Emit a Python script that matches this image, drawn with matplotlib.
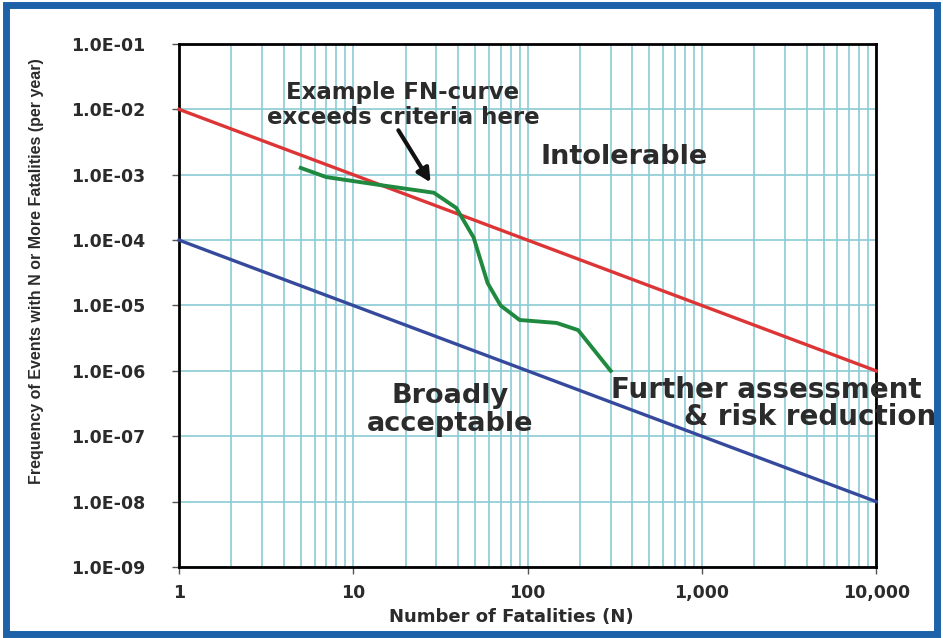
import numpy as np
import matplotlib.pyplot as plt
from matplotlib.patches import Rectangle
from matplotlib.ticker import FixedLocator, FixedFormatter, NullFormatter

# criteria lines (slope -1 on log-log)
crit_n = [1, 10000]
intolerable_f = [1e-2, 1e-6]
acceptable_f = [1e-4, 1e-8]

# example FN-curve
fn_n = [5, 7, 14, 29, 39, 49, 59, 70, 90, 147, 195, 300]
fn_f = [1.27e-3, 9.2e-4, 7.0e-4, 5.3e-4, 3.1e-4, 1.1e-4, 2.2e-5, 1.0e-5, 6.0e-6, 5.4e-6, 4.2e-6, 1.0e-6]

x_ticks = [1, 10, 100, 1000, 10000]
x_labels = ['1', '10', '100', '1,000', '10,000']
y_ticks = [1e-9, 1e-8, 1e-7, 1e-6, 1e-5, 1e-4, 1e-3, 1e-2, 1e-1]
y_labels = ['1.0E-09', '1.0E-08', '1.0E-07', '1.0E-06', '1.0E-05',
            '1.0E-04', '1.0E-03', '1.0E-02', '1.0E-01']

txt = '#2b2b2b'
gridc = '#8ccbd6'

fig = plt.figure(figsize=(9.43, 6.38), dpi=100)
ax = fig.add_axes([0.1898, 0.1113, 0.7393, 0.8198])

ax.set_xscale('log')
ax.set_yscale('log')
ax.set_xlim(1, 10000)
ax.set_ylim(1e-9, 1e-1)

ax.xaxis.set_major_locator(FixedLocator(x_ticks))
ax.xaxis.set_major_formatter(FixedFormatter(x_labels))
ax.xaxis.set_minor_locator(FixedLocator([m * 10 ** d for d in range(4) for m in range(2, 10)]))
ax.xaxis.set_minor_formatter(NullFormatter())
ax.yaxis.set_major_locator(FixedLocator(y_ticks))
ax.yaxis.set_major_formatter(FixedFormatter(y_labels))
ax.yaxis.set_minor_locator(FixedLocator([]))

ax.grid(True, which='both', axis='x', color=gridc, lw=1.2)
ax.grid(True, which='major', axis='y', color=gridc, lw=1.2)
ax.set_axisbelow(True)

for sp in ax.spines.values():
    sp.set_linewidth(2)
    sp.set_color('black')

ax.tick_params(axis='both', which='major', length=5, width=1, color='#555555',
               labelsize=12.5, labelcolor=txt)
ax.tick_params(axis='x', which='minor', length=0)
ax.tick_params(axis='x', pad=7)
ax.tick_params(axis='y', pad=19)
for lab in ax.get_xticklabels() + ax.get_yticklabels():
    lab.set_fontweight('bold')

ax.plot(crit_n, intolerable_f, color='#dd3535', lw=2.4, clip_on=False, zorder=3)
ax.plot(crit_n, acceptable_f, color='#354a9c', lw=2.4, clip_on=False, zorder=3)
ax.plot(fn_n, fn_f, color='#1f8a3f', lw=2.8, zorder=4)

ax.annotate('', xy=(28.3, 7e-4), xytext=(17.8, 5.2e-3),
            arrowprops=dict(arrowstyle='-|>', color='#111111', lw=3,
                            mutation_scale=20))

big = dict(fontsize=19.5, fontweight='bold', color=txt, ha='center', va='center')
ax.text(19.3, 1.17e-2, 'Example FN-curve\nexceeds criteria here', ha='center',
        va='center', fontsize=16.5, fontweight='bold', color=txt,
        linespacing=1.1)
ax.text(358, 1.87e-3, 'Intolerable', **big)
ax.text(35.9, 2.53e-7, 'Broadly\nacceptable', linespacing=1.12, **big)
big['fontsize'] = 20
ax.text(2338, 5.12e-7, 'Further assessment', clip_on=False, **big)
ax.text(4180, 1.98e-7, '& risk reduction', clip_on=False, **big)

fig.text(0.542, 0.033, 'Number of Fatalities (N)', ha='center', va='center',
         fontsize=13, fontweight='bold', color=txt)
fig.text(0.039, 0.575, 'Frequency of Events with N or More Fatalities (per year)',
         rotation=90, ha='center', va='center', fontsize=11.5, fontweight='bold',
         color=txt, family=['Liberation Sans Narrow', 'Liberation Sans', 'DejaVu Sans'])

# frame round the whole figure
fig.patches.append(Rectangle((0.006, 0.007), 0.988, 0.985, transform=fig.transFigure,
                             fill=False, edgecolor='#1d62a8', lw=5))

fig.savefig('out.png', dpi=100)
